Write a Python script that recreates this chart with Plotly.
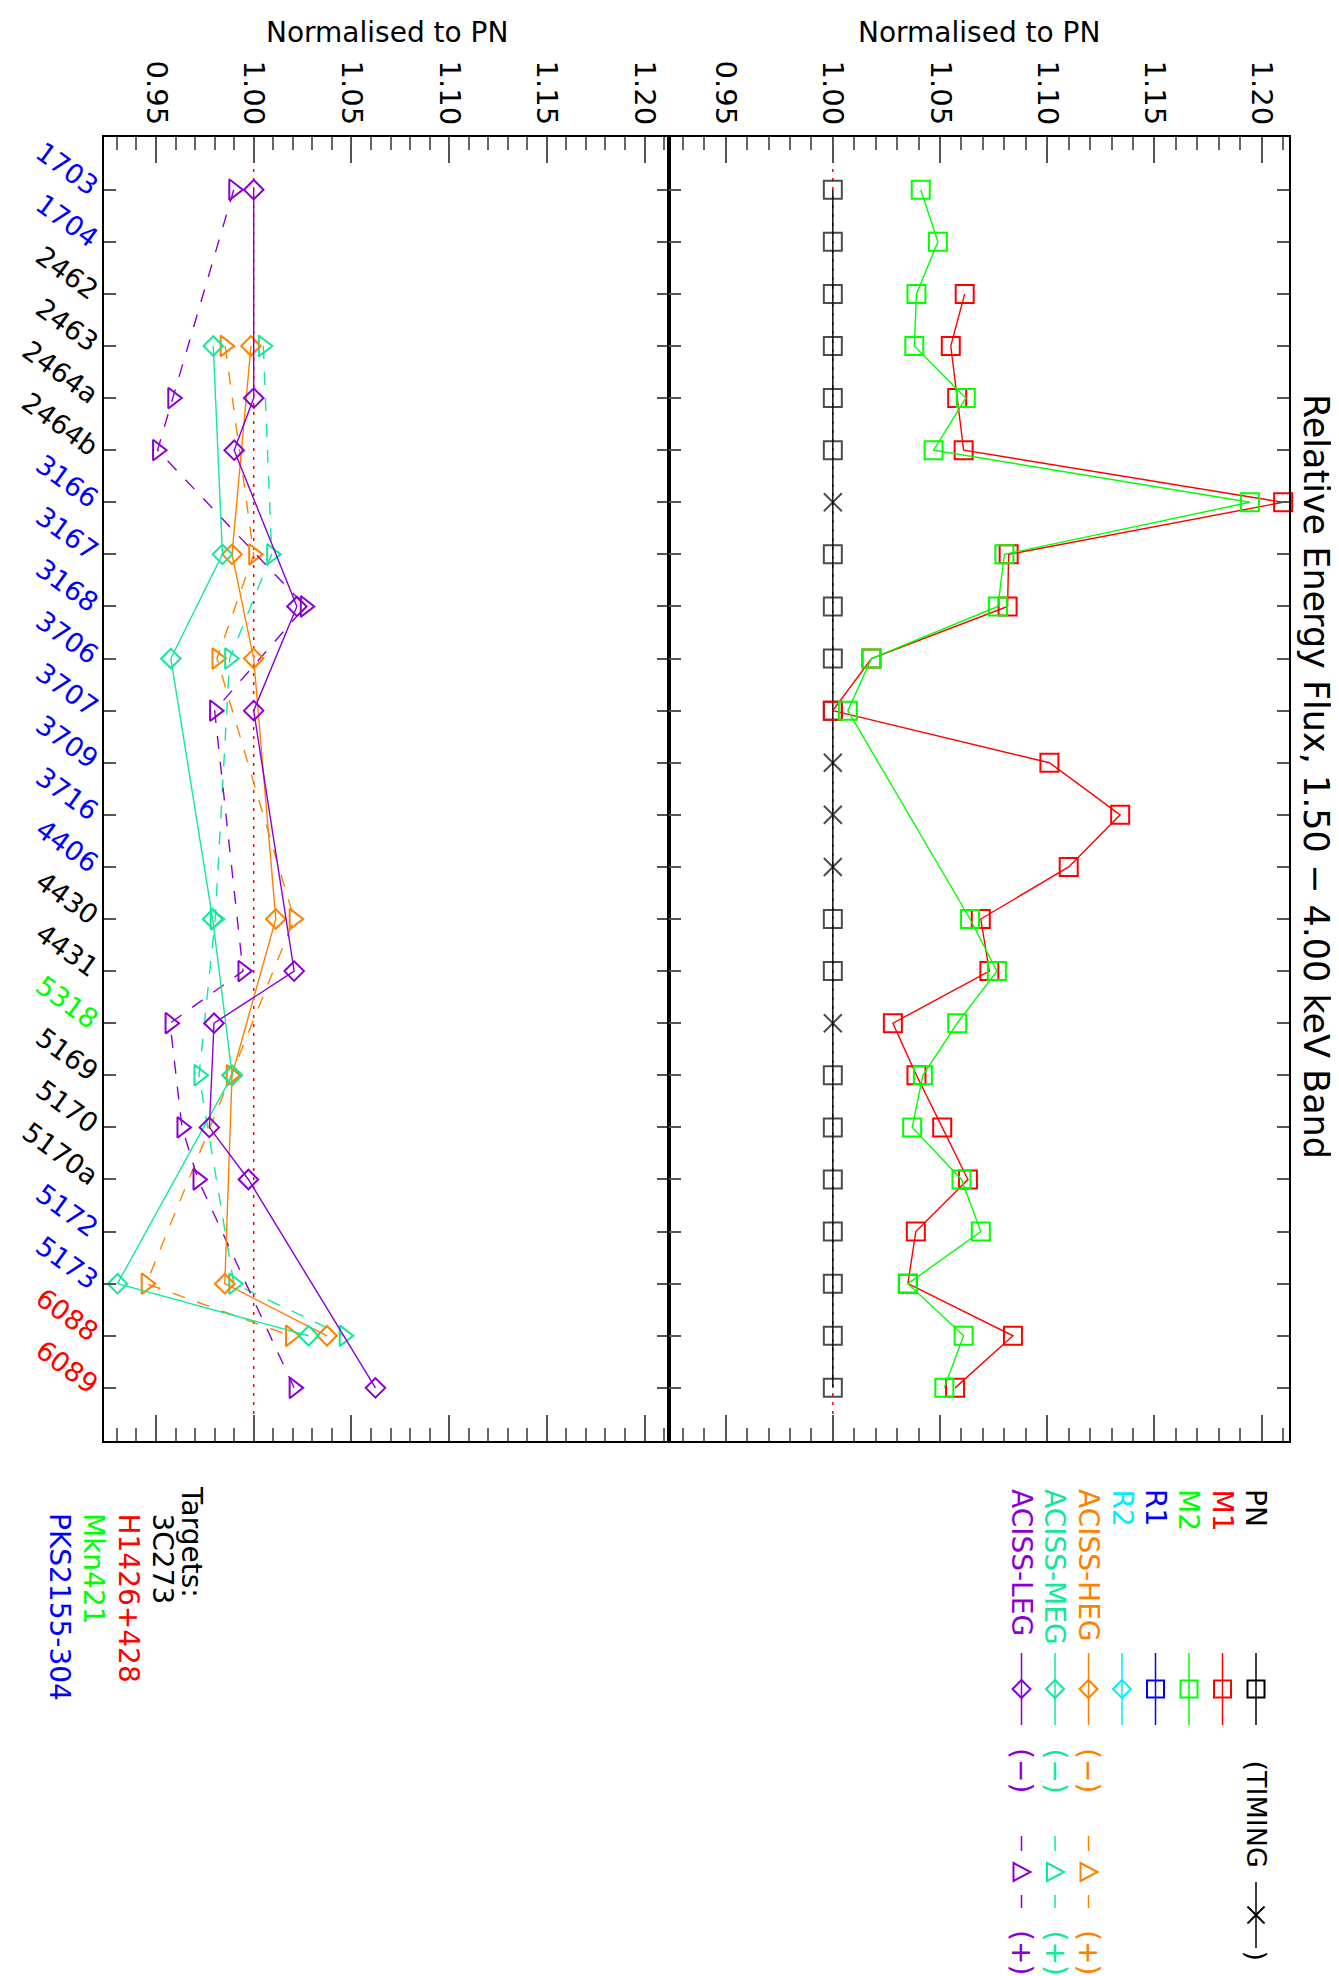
import plotly.graph_objects as go

# ---------------- data ----------------
categories = ["1703", "1704", "2462", "2463", "2464a", "2464b", "3166", "3167",
              "3168", "3706", "3707", "3709", "3716", "4406", "4430", "4431",
              "5318", "5169", "5170", "5170a", "5172", "5173", "6088", "6089"]
category_target = ["PKS2155-304", "PKS2155-304", "3C273", "3C273", "3C273", "3C273",
                   "PKS2155-304", "PKS2155-304", "PKS2155-304", "PKS2155-304",
                   "PKS2155-304", "PKS2155-304", "PKS2155-304", "PKS2155-304",
                   "3C273", "3C273", "Mkn421", "3C273", "3C273", "3C273",
                   "PKS2155-304", "PKS2155-304", "H1426+428", "H1426+428"]
targets = ["3C273", "H1426+428", "Mkn421", "PKS2155-304"]
target_colors = ["#000000", "#FF0000", "#00FF00", "#0000FF"]

pn_mode = ["IMG", "IMG", "IMG", "IMG", "IMG", "IMG", "TIMING", "IMG", "IMG", "IMG",
           "IMG", "TIMING", "TIMING", "TIMING", "IMG", "IMG", "TIMING", "IMG", "IMG",
           "IMG", "IMG", "IMG", "IMG", "IMG"]
pn = [1.0, 1.0, 1.0, 1.0, 1.0, 1.0, 1.0, 1.0, 1.0, 1.0, 1.0, 1.0,
      1.0, 1.0, 1.0, 1.0, 1.0, 1.0, 1.0, 1.0, 1.0, 1.0, 1.0, 1.0]
m1 = [None, None, 1.0615, 1.055, 1.058, 1.061, 1.210, 1.082, 1.0815, 1.018, 1.000, 1.101,
      1.134, 1.110, 1.069, 1.073, 1.028, 1.039, 1.051, 1.063, 1.0387, 1.035, 1.084, 1.057]
m2 = [1.041, 1.049, 1.039, 1.038, 1.062, 1.047, 1.1945, 1.080, 1.077, 1.018, 1.007, None,
      None, None, 1.064, 1.0765, 1.058, 1.042, 1.037, 1.060, 1.069, 1.035, 1.061, 1.052]

heg_minus = [None, None, None, 0.9986, None, None, None, 0.9889, None, 1.000, None, None,
             None, None, 1.0113, None, None, 0.9889, None, None, None, 0.9852, 1.0375, None]
heg_plus = [None, None, None, 0.9854, None, None, None, 1.000, None, 0.9812, None, None,
            None, None, 1.0207, None, None, 0.9885, None, None, None, 0.945, 1.0188, None]
meg_minus = [None, None, None, 0.9793, None, None, None, 0.984, None, 0.9576, None, None,
             None, None, 0.979, None, None, 0.989, None, None, None, 0.9303, 1.0281, None]
meg_plus = [None, None, None, 1.0049, None, None, None, 1.0092, None, 0.9877, None, None,
            None, None, 0.9803, None, None, 0.972, None, None, None, 0.9898, 1.0463, None]
leg_minus = [1.000, None, None, None, 1.000, 0.990, None, None, 1.0221, None, 1.000, None,
             None, None, None, 1.0207, 0.9797, None, 0.9773, 0.9973, None, None, None, 1.0623]
leg_plus = [0.9898, None, None, None, 0.9586, 0.9508, None, None, 1.0264, None, 0.980, None,
            None, None, None, 0.9945, 0.9572, None, 0.9633, 0.9715, None, None, None, 1.0207]

legend_names = ["PN", "M1", "M2", "R1", "R2", "ACISS-HEG", "ACISS-MEG", "ACISS-LEG"]
legend_colors = ["#000000", "#FF0000", "#00FF00", "#0000FF", "#00EEFF",
                 "#FF8000", "#11E89A", "#8A00D4"]
legend_symbols = ["square", "square", "square", "square", "diamond", "diamond", "diamond", "diamond"]
legend_pm = [False, False, False, False, False, True, True, True]

value_ticks = [0.95, 1.00, 1.05, 1.10, 1.15, 1.20]
x_range = [0.9236, 1.2125]

W, H = 1339, 1976
FONT = "DejaVu Sans"


def px(x):
    return x / W


def py(y):
    return 1 - y / H


HEG, MEG, LEG = legend_colors[5], legend_colors[6], legend_colors[7]

fig = go.Figure()


def add(xvals, color, symbol, size, dash, xa, ya):
    fig.add_trace(go.Scatter(
        x=xvals, y=categories, xaxis=xa, yaxis=ya, mode="lines+markers",
        connectgaps=True, showlegend=False, cliponaxis=False,
        line=dict(color=color, width=1.4, dash=dash),
        marker=dict(symbol=symbol, size=size, color=color,
                    line=dict(color=color, width=2))))


# right panel
fig.add_trace(go.Scatter(
    x=pn, y=categories, xaxis="x2", yaxis="y2", mode="lines+markers",
    showlegend=False, cliponaxis=False,
    line=dict(color="black", width=1.4),
    marker=dict(symbol=["x-thin-open" if m == "TIMING" else "square-open" for m in pn_mode],
                size=[18 if m == "TIMING" else 18 for m in pn_mode],
                color="black", line=dict(color="black", width=2))))
add(m1, legend_colors[1], "square-open", 18, "solid", "x2", "y2")
add(m2, legend_colors[2], "square-open", 18, "solid", "x2", "y2")

# left panel
DASH = "13px,13px"
add(heg_plus, HEG, "triangle-right-open", 18, DASH, "x", "y")
add(meg_plus, MEG, "triangle-right-open", 18, DASH, "x", "y")
add(leg_plus, LEG, "triangle-right-open", 18, DASH, "x", "y")
add(heg_minus, HEG, "diamond-open", 15, "solid", "x", "y")
add(meg_minus, MEG, "diamond-open", 15, "solid", "x", "y")
add(leg_minus, LEG, "diamond-open", 15, "solid", "x", "y")

tick_text = []
for c, t in zip(categories, category_target):
    col = target_colors[targets.index(t)]
    tick_text.append("<span style='color:%s'>%s</span>" % (col, c))

xcommon = dict(
    side="top", range=x_range, tickmode="array", tickvals=value_ticks,
    ticktext=["%.2f" % v for v in value_ticks], tickangle=90,
    ticks="inside", ticklen=26, tickwidth=1.5, tickcolor="#555555",
    mirror="allticks", showline=True, linecolor="black", linewidth=2,
    showgrid=False, zeroline=False,
    tickfont=dict(family=FONT, size=29, color="black"),
    minor=dict(dtick=0.01, tick0=0.95, ticks="inside", ticklen=13, tickwidth=1.5,
               tickcolor="#666666", showgrid=False),
)
ydom = [py(1433), py(129.3)]
ycommon = dict(
    type="category", categoryorder="array", categoryarray=categories,
    range=[24.02, -1.006], domain=ydom,
    ticks="inside", ticklen=12, tickwidth=2, tickcolor="#555555",
    mirror="allticks", showline=True, linecolor="black", linewidth=1.5,
    showgrid=False, zeroline=False,
)

fig.update_layout(
    width=W, height=H, margin=dict(l=0, r=0, t=0, b=0),
    paper_bgcolor="white", plot_bgcolor="white",
    xaxis=dict(domain=[px(96.4), px(661)], anchor="y", **xcommon),
    xaxis2=dict(domain=[px(661), px(1280.5)], anchor="y2", **xcommon),
    yaxis=dict(anchor="x", tickmode="array", tickvals=categories, ticktext=tick_text,
               tickangle=36, tickfont=dict(family=FONT, size=27), **ycommon),
    yaxis2=dict(anchor="x2", matches="y", showticklabels=False, **ycommon),
)

shapes = []
# reference lines at 1.00
for xr, yr in (("x", "y domain"), ("x2", "y2 domain")):
    shapes.append(dict(type="line", xref=xr, yref=yr, x0=1.0, x1=1.0, y0=0, y1=1,
                       line=dict(color="#FF0000", width=1.5, dash="3px,6px"), layer="below"))

annotations = []
# axis titles
for cx in ((96.4 + 661) / 2, (661 + 1280.5) / 2):
    annotations.append(dict(x=px(cx), y=py(25), xref="paper", yref="paper",
                            text="Normalised to PN", showarrow=False,
                            font=dict(family=FONT, size=28, color="black"),
                            xanchor="center", yanchor="middle"))
# main title (rotated)
annotations.append(dict(x=px(1308), y=py(768), xref="paper", yref="paper",
                        text="Relative Energy Flux, 1.50 − 4.00 keV Band", textangle=90,
                        showarrow=False, font=dict(family=FONT, size=35, color="black"),
                        xanchor="center", yanchor="middle"))


def seg(x0, y0, x1, y1, color, width=1.5):
    shapes.append(dict(type="line", xref="paper", yref="paper",
                       x0=px(x0), y0=py(y0), x1=px(x1), y1=py(y1),
                       line=dict(color=color, width=width)))


def path(points, color, width=2):
    d = "M " + " L ".join("%f,%f" % (px(a), py(b)) for a, b in points) + " Z"
    shapes.append(dict(type="path", xref="paper", yref="paper", path=d,
                       line=dict(color=color, width=width)))


def rtext(x, ytop, text, color, size=28):
    annotations.append(dict(x=px(x), y=py(ytop), xref="paper", yref="paper", text=text,
                            textangle=90, showarrow=False,
                            font=dict(family=FONT, size=size, color=color),
                            xanchor="center", yanchor="top"))


# instrument legend
for i, (name, col, sym, pm) in enumerate(zip(legend_names, legend_colors, legend_symbols, legend_pm)):
    cx = 1248 - 33.5 * i
    rtext(cx, 1479, name, col)
    seg(cx, 1645, cx, 1717, col)
    cy = 1681
    if sym == "square":
        path([(cx - 8.5, cy - 8.5), (cx + 8.5, cy - 8.5), (cx + 8.5, cy + 8.5), (cx - 8.5, cy + 8.5)], col)
    else:
        path([(cx, cy - 9), (cx + 9, cy), (cx, cy + 9), (cx - 9, cy)], col)
    if pm:
        rtext(cx, 1738, "(−)", col)
        seg(cx, 1828, cx, 1843, col)
        path([(cx - 8, cy + 174), (cx + 9, cy + 183), (cx - 8, cy + 192)], col)
        seg(cx, 1887, cx, 1900, col)
        rtext(cx, 1920, "(+)", col)

# PN timing note
cx = 1248
rtext(cx, 1750, "(TIMING", "#000000", 27)
seg(cx, 1874, cx, 1940, "#000000")
seg(cx - 8.5, 1898.5, cx + 8.5, 1915.5, "#000000", 2)
seg(cx - 8.5, 1915.5, cx + 8.5, 1898.5, "#000000", 2)
rtext(cx, 1940, ")", "#000000", 27)

# targets legend
rtext(184, 1476, "Targets:", "#000000")
for j, (t, col) in enumerate(zip(targets, target_colors)):
    rtext(154 - 34 * j, 1503, t, col)

fig.update_layout(shapes=shapes, annotations=annotations)
fig.write_html("out.html")
